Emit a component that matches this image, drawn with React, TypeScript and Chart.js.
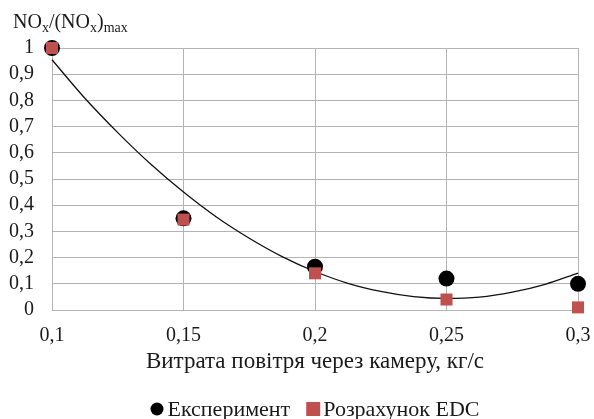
import React, { useEffect, useRef } from "react";
import { Chart, registerables } from "chart.js";

Chart.register(...registerables);

const xValues = [0.1, 0.15, 0.2, 0.25, 0.3];
const experiment = [1.0, 0.35, 0.165, 0.12, 0.1];
const edc = [1.0, 0.345, 0.14, 0.04, 0.01];

const trendX = [0.1, 0.1125, 0.125, 0.1375, 0.15, 0.1625, 0.175, 0.1875, 0.2, 0.2125, 0.225, 0.2375, 0.25, 0.2625, 0.275, 0.2875, 0.3];
const trendY = [0.955, 0.808, 0.677, 0.557, 0.45, 0.355, 0.274, 0.204, 0.147, 0.102, 0.071, 0.051, 0.044, 0.049, 0.068, 0.098, 0.141];

const xTickLabels = ["0,1", "0,15", "0,2", "0,25", "0,3"];
const yTickLabels = ["0", "0,1", "0,2", "0,3", "0,4", "0,5", "0,6", "0,7", "0,8", "0,9", "1"];

const seriesNames = ["Експеримент", "Розрахунок EDC"];
const xTitle = "Витрата повітря через камеру, кг/с";

const FONT = "'Liberation Serif', 'Times New Roman', serif";
const RED = "#c0504d";
const GRID = "#b4b4b4";
const TEXT = "#1a1a1a";

const yTitlePlugin = {
  id: "yTitle",
  afterDraw(chart: any) {
    const ctx = chart.ctx;
    ctx.save();
    ctx.fillStyle = TEXT;
    ctx.textBaseline = "alphabetic";
    ctx.textAlign = "left";
    const big = `20px ${FONT}`;
    const small = `14px ${FONT}`;
    const parts: [string, boolean][] = [
      ["NO", false], ["x", true], ["/(NO", false], ["x", true], [")", false], ["max", true],
    ];
    let x = 13;
    const base = 28;
    for (const [t, sub] of parts) {
      ctx.font = sub ? small : big;
      ctx.fillText(t, x, sub ? base + 4 : base);
      x += ctx.measureText(t).width;
    }
    ctx.restore();
  },
};

const legendPlugin = {
  id: "customLegend",
  afterDraw(chart: any) {
    const ctx = chart.ctx;
    ctx.save();
    ctx.font = `22px ${FONT}`;
    ctx.textBaseline = "alphabetic";
    ctx.textAlign = "left";
    const cy = 409;
    const baseline = 416;
    const w1 = ctx.measureText(seriesNames[0]).width;
    const w2 = ctx.measureText(seriesNames[1]).width;
    const total = 13 + 4 + w1 + 16 + 14 + 3 + w2;
    const cx = (chart.chartArea.left + chart.chartArea.right) / 2;
    let x = cx - total / 2;
    ctx.fillStyle = "#000";
    ctx.beginPath();
    ctx.arc(x + 6.5, cy, 6.5, 0, Math.PI * 2);
    ctx.fill();
    x += 17;
    ctx.fillStyle = TEXT;
    ctx.fillText(seriesNames[0], x, baseline);
    x += w1 + 16;
    ctx.fillStyle = RED;
    ctx.fillRect(x, cy - 7, 14, 14);
    x += 17;
    ctx.fillStyle = TEXT;
    ctx.fillText(seriesNames[1], x, baseline);
    ctx.restore();
  },
};

export default function App() {
  const ref = useRef<HTMLCanvasElement>(null);
  useEffect(() => {
    document.body.style.margin = "0";
    const canvas = ref.current!;
    const chart = new Chart(canvas, {
      type: "scatter",
      data: {
        datasets: [
          {
            label: seriesNames[0],
            data: xValues.map((x, i) => ({ x, y: experiment[i] })),
            pointStyle: "circle",
            pointRadius: 8,
            pointBackgroundColor: "#000",
            pointBorderColor: "#000",
            borderWidth: 0,
            clip: false,
            order: 2,
          } as any,
          {
            label: seriesNames[1],
            data: xValues.map((x, i) => ({ x, y: edc[i] })),
            pointStyle: "rect",
            pointRadius: 8.5,
            pointBackgroundColor: RED,
            pointBorderColor: RED,
            borderWidth: 0,
            clip: false,
            order: 1,
          } as any,
          {
            type: "line",
            label: "trend",
            data: trendX.map((x, i) => ({ x, y: trendY[i] })),
            borderColor: "#111",
            borderWidth: 1.3,
            pointRadius: 0,
            showLine: true,
            fill: false,
            clip: false,
            cubicInterpolationMode: "monotone",
            order: 3,
          } as any,
        ],
      },
      options: {
        responsive: false,
        animation: false,
        layout: { padding: { top: 48, left: 0, right: 16, bottom: 39 } },
        plugins: {
          legend: { display: false },
          tooltip: { enabled: false },
        },
        scales: {
          x: {
            type: "linear",
            min: 0.1,
            max: 0.3,
            afterBuildTicks(scale: any) {
              scale.ticks = xValues.map((v) => ({ value: v }));
            },
            afterFit(scale: any) {
              scale.height = 70;
              scale.paddingRight = 0;
              scale.paddingLeft = 0;
            },
            grid: { color: GRID, drawTicks: false, lineWidth: 1 },
            border: { color: GRID },
            ticks: {
              padding: 14,
              color: TEXT,
              font: { family: FONT, size: 20 },
              callback: (_v: any, i: number) => xTickLabels[i],
              maxRotation: 0,
              autoSkip: false,
            },
            title: {
              display: true,
              text: xTitle,
              color: TEXT,
              font: { family: FONT, size: 23 },
              padding: { top: 4, bottom: 4 },
            },
          },
          y: {
            type: "linear",
            min: 0,
            max: 1,
            afterBuildTicks(scale: any) {
              scale.ticks = yTickLabels.map((_, i) => ({ value: i / 10 }));
            },
            afterFit(scale: any) {
              scale.width = 52;
            },
            grid: { color: GRID, drawTicks: false, lineWidth: 1 },
            border: { color: GRID },
            ticks: {
              padding: 18,
              color: TEXT,
              font: { family: FONT, size: 20 },
              callback: (_v: any, i: number) => yTickLabels[i],
              autoSkip: false,
            },
          },
        },
      },
      plugins: [yTitlePlugin, legendPlugin],
    });
    return () => chart.destroy();
  }, []);
  return <canvas ref={ref} width={594} height={419} style={{ display: "block" }} />;
}
